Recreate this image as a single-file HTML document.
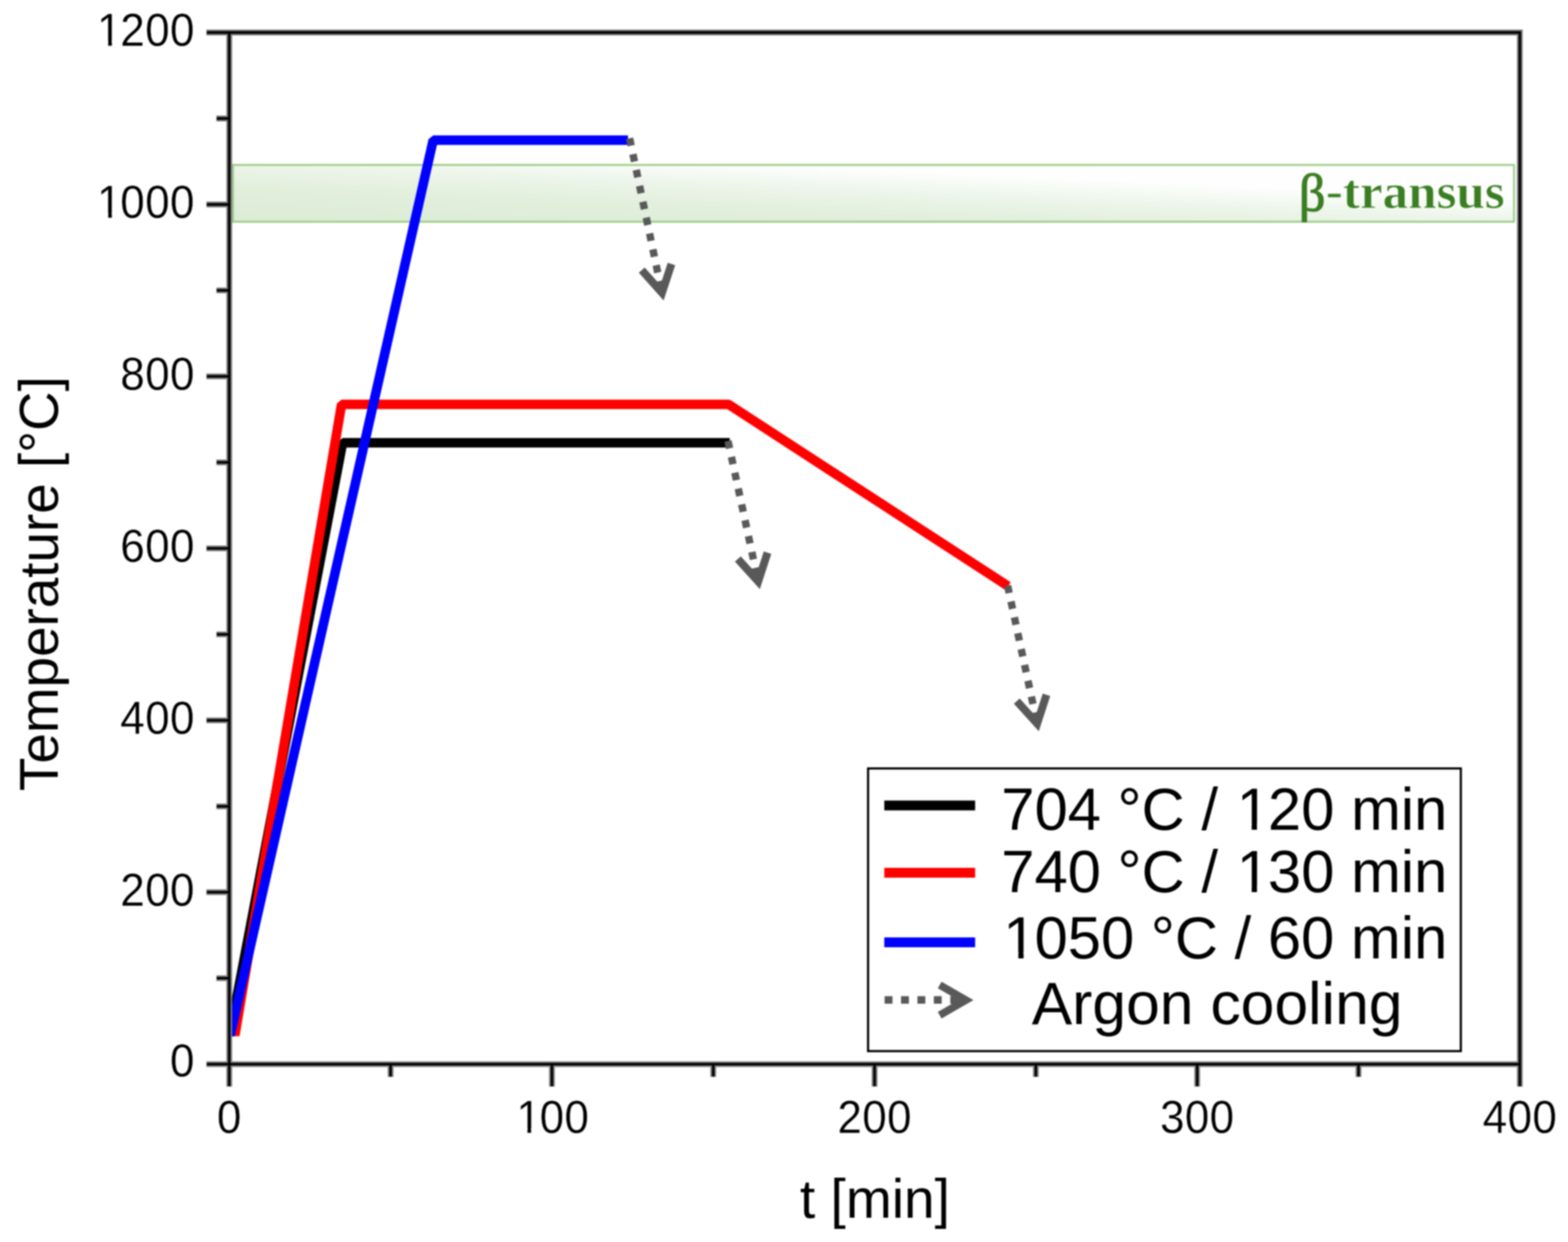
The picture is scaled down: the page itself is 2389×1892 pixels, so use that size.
<!DOCTYPE html>
<html lang="en"><head><meta charset="utf-8"><title>Heat treatment temperature profiles</title>
<style>html,body{margin:0;padding:0;background:#fff;}body{width:2389px;height:1892px;overflow:hidden;}svg{display:block;}svg{font-family:"Liberation Sans",Arial,Helvetica,sans-serif;fill:#000;}.ser{font-family:"Liberation Serif","DejaVu Serif",serif;fill:#3a7d22;}</style>
</head><body>
<svg width="2389" height="1892" viewBox="0 0 2389 1892" style="filter:blur(0.90px)">
<defs><linearGradient id="bg" x1="0" y1="1" x2="1" y2="0"><stop offset="0" stop-color="#dcecd6"/><stop offset="0.3" stop-color="#e1efdc"/><stop offset="0.5" stop-color="#ecf5e9"/><stop offset="0.7" stop-color="#fdfefd"/><stop offset="1" stop-color="#ffffff"/></linearGradient></defs>
<rect width="2389" height="1892" fill="#fff"/>
<rect x="351" y="251.2" width="1955.8" height="86.6" fill="url(#bg)"/>
<path d="M351,251.2 H2306.8 V337.8 H351 M355,251.2 V337.8" fill="none" stroke="#9fcd89" stroke-width="3"/>
<clipPath id="cr"><rect x="38.6" y="-80" width="290" height="120"/></clipPath>
<clipPath id="cb"><rect x="-10" y="-80" width="47.6" height="120"/></clipPath>
<g class="ser" font-weight="bold" stroke="#f9fcf8" stroke-width="0.9" clip-path="url(#cr)" transform="translate(1979,317.4) scale(1.0385,1)"><text id="bt" font-size="75" dy="0 -2.6 2.6">β-transus</text></g>
<g class="ser" font-weight="normal" stroke="#3a7d22" stroke-width="1.5" clip-path="url(#cb)" transform="translate(1979,320.6) scale(1.06,1.06)"><use href="#bt"/></g>
<clipPath id="cp"><rect x="346.5" y="50" width="1970" height="1528.6"/></clipPath>
<g fill="none" stroke-width="14.5" stroke-linejoin="bevel" stroke-linecap="butt" clip-path="url(#cp)">
<polyline stroke="#000" points="345.5,1600.0 522.0,674.5 1111.8,674.5"/>
<polyline stroke="#f00" points="354.0,1600.0 520.4,616.0 1110.0,616.0 1536.0,893.0"/>
<polyline stroke="#00f" points="345.5,1600.0 660.0,213.5 956.8,213.5"/>
</g>
<g fill="none" stroke="#595959" stroke-width="11.5" stroke-linejoin="miter" stroke-miterlimit="10">
<line x1="959.3" y1="210.6" x2="1008.6" y2="446.1" stroke-width="11.2" stroke-dasharray="11.5 13.2"/><polyline stroke-width="12.0" points="1023.0,402.2 1008.6,446.1 977.8,411.6"/>
<line x1="1109.2" y1="671.8" x2="1155.2" y2="885.8" stroke-width="11.2" stroke-dasharray="11.5 13.2"/><polyline stroke-width="12.0" points="1169.4,841.8 1155.2,885.8 1124.2,851.5"/>
<line x1="1535.2" y1="892.1" x2="1580.2" y2="1102.3" stroke-width="11.2" stroke-dasharray="11.5 13.2"/><polyline stroke-width="12.0" points="1594.4,1058.3 1580.2,1102.3 1549.2,1068.0"/>
</g>
<path d="M349.3,45.1 L349.3,1655.2 M2315.6,45.1 L2315.6,1655.2 M314.5,49.5 L2320.0,49.5 M314.5,1621.2 L2315.6,1621.2 M329.7,1490.2 L349.3,1490.2 M314.5,1359.2 L349.3,1359.2 M329.7,1228.3 L349.3,1228.3 M314.5,1097.3 L349.3,1097.3 M329.7,966.3 L349.3,966.3 M314.5,835.4 L349.3,835.4 M329.7,704.4 L349.3,704.4 M314.5,573.4 L349.3,573.4 M329.7,442.4 L349.3,442.4 M314.5,311.5 L349.3,311.5 M329.7,180.5 L349.3,180.5 M595.1,1621.2 L595.1,1640.5 M840.9,1621.2 L840.9,1655.2 M1086.7,1621.2 L1086.7,1640.5 M1332.5,1621.2 L1332.5,1655.2 M1578.2,1621.2 L1578.2,1640.5 M1824.0,1621.2 L1824.0,1655.2 M2069.8,1621.2 L2069.8,1640.5" fill="none" stroke="#7e7e7e" stroke-width="8.8"/>
<path d="M349.3,47.6 L349.3,1654.7 M2315.6,47.6 L2315.6,1654.7 M315.0,49.5 L2317.5,49.5 M315.0,1621.2 L2315.6,1621.2 M330.2,1490.2 L349.3,1490.2 M315.0,1359.2 L349.3,1359.2 M330.2,1228.3 L349.3,1228.3 M315.0,1097.3 L349.3,1097.3 M330.2,966.3 L349.3,966.3 M315.0,835.4 L349.3,835.4 M330.2,704.4 L349.3,704.4 M315.0,573.4 L349.3,573.4 M330.2,442.4 L349.3,442.4 M315.0,311.5 L349.3,311.5 M330.2,180.5 L349.3,180.5 M595.1,1621.2 L595.1,1640.0 M840.9,1621.2 L840.9,1654.7 M1086.7,1621.2 L1086.7,1640.0 M1332.5,1621.2 L1332.5,1654.7 M1578.2,1621.2 L1578.2,1640.0 M1824.0,1621.2 L1824.0,1654.7 M2069.8,1621.2 L2069.8,1640.0" fill="none" stroke="#000" stroke-width="3.8"/>
<g transform="translate(258.99,1640.20) scale(0.97,1.03)"><text font-size="69" letter-spacing="0.6" stroke="#fff" stroke-width="0.3">0</text></g>
<g transform="translate(183.37,1379.65) scale(0.97,1.03)"><text font-size="69" letter-spacing="0.6" stroke="#fff" stroke-width="0.3">200</text></g>
<g transform="translate(183.37,1117.70) scale(0.97,1.03)"><text font-size="69" letter-spacing="0.6" stroke="#fff" stroke-width="0.3">400</text></g>
<g transform="translate(183.37,855.75) scale(0.97,1.03)"><text font-size="69" letter-spacing="0.6" stroke="#fff" stroke-width="0.3">600</text></g>
<g transform="translate(183.37,593.80) scale(0.97,1.03)"><text font-size="69" letter-spacing="0.6" stroke="#fff" stroke-width="0.3">800</text></g>
<g transform="translate(145.57,331.85) scale(0.97,1.03)"><text font-size="69" letter-spacing="0.6" stroke="#fff" stroke-width="0.3" dx="2.35 -2.35">1000</text><g fill="#fff"><rect x="5.80" y="-7.59" width="14.05" height="9.66"/><rect x="25.62" y="-7.59" width="13.64" height="9.66"/></g></g>
<g transform="translate(145.57,69.90) scale(0.97,1.03)"><text font-size="69" letter-spacing="0.6" stroke="#fff" stroke-width="0.3" dx="2.35 -2.35">1200</text><g fill="#fff"><rect x="5.80" y="-7.59" width="14.05" height="9.66"/><rect x="25.62" y="-7.59" width="13.64" height="9.66"/></g></g>
<g transform="translate(330.60,1726.00) scale(0.97,1.03)"><text font-size="69" letter-spacing="0.6" stroke="#fff" stroke-width="0.3">0</text></g>
<g transform="translate(784.36,1726.00) scale(0.97,1.03)"><text font-size="69" letter-spacing="0.6" stroke="#fff" stroke-width="0.3" dx="2.35 -2.35">100</text><g fill="#fff"><rect x="5.80" y="-7.59" width="14.05" height="9.66"/><rect x="25.62" y="-7.59" width="13.64" height="9.66"/></g></g>
<g transform="translate(1275.94,1726.00) scale(0.97,1.03)"><text font-size="69" letter-spacing="0.6" stroke="#fff" stroke-width="0.3">200</text></g>
<g transform="translate(1767.51,1726.00) scale(0.97,1.03)"><text font-size="69" letter-spacing="0.6" stroke="#fff" stroke-width="0.3">300</text></g>
<g transform="translate(2259.09,1726.00) scale(0.97,1.03)"><text font-size="69" letter-spacing="0.6" stroke="#fff" stroke-width="0.3">400</text></g>
<text x="1333" y="1855" font-size="84" text-anchor="middle">t [min]</text>
<text transform="translate(87.8,889) rotate(-90)" font-size="83.5" text-anchor="middle">Temperature [°C]</text>
<rect x="1322.6" y="1170.6" width="903.1" height="430.6" fill="#fff" stroke="#000" stroke-width="3.3"/>
<g fill="none" stroke-width="15">
<line x1="1347.3" y1="1227" x2="1485.7" y2="1227" stroke="#000"/>
<line x1="1347.3" y1="1329.4" x2="1485.7" y2="1329.4" stroke="#f00"/>
<line x1="1347.3" y1="1435.6" x2="1485.7" y2="1435.6" stroke="#00f"/>
</g>
<g fill="none" stroke="#595959" stroke-width="11.5" stroke-linejoin="miter" stroke-miterlimit="10">
<line x1="1347.8" y1="1523.3" x2="1471" y2="1523.3" stroke-dasharray="12 13"/>
<polyline points="1431.7,1500.4 1471.7,1523.5 1431.7,1546.6"/>
</g>
<g transform="translate(1525.50,1264.30) scale(1.0125,1)"><text font-size="90" dx="0 0 0 0 0 0 0 0 0 3.06 -3.06">704 °C / 120 min</text><g fill="#fff"><rect x="358.73" y="-9.90" width="18.13" height="12.60"/><rect x="384.79" y="-9.90" width="17.60" height="12.60"/></g></g>
<g transform="translate(1525.50,1359.00) scale(1.0125,1)"><text font-size="90" dx="0 0 0 0 0 0 0 0 0 3.06 -3.06">740 °C / 130 min</text><g fill="#fff"><rect x="358.73" y="-9.90" width="18.13" height="12.60"/><rect x="384.79" y="-9.90" width="17.60" height="12.60"/></g></g>
<g transform="translate(1525.50,1460.30) scale(1.0125,1)"><text font-size="90" dx="3.06 -3.06">1050 °C / 60 min</text><g fill="#fff"><rect x="7.56" y="-9.90" width="18.13" height="12.60"/><rect x="33.62" y="-9.90" width="17.60" height="12.60"/></g></g>
<text transform="translate(1572,1560) scale(1.0265,1)" font-size="90">Argon cooling</text>
</svg>
</body></html>
